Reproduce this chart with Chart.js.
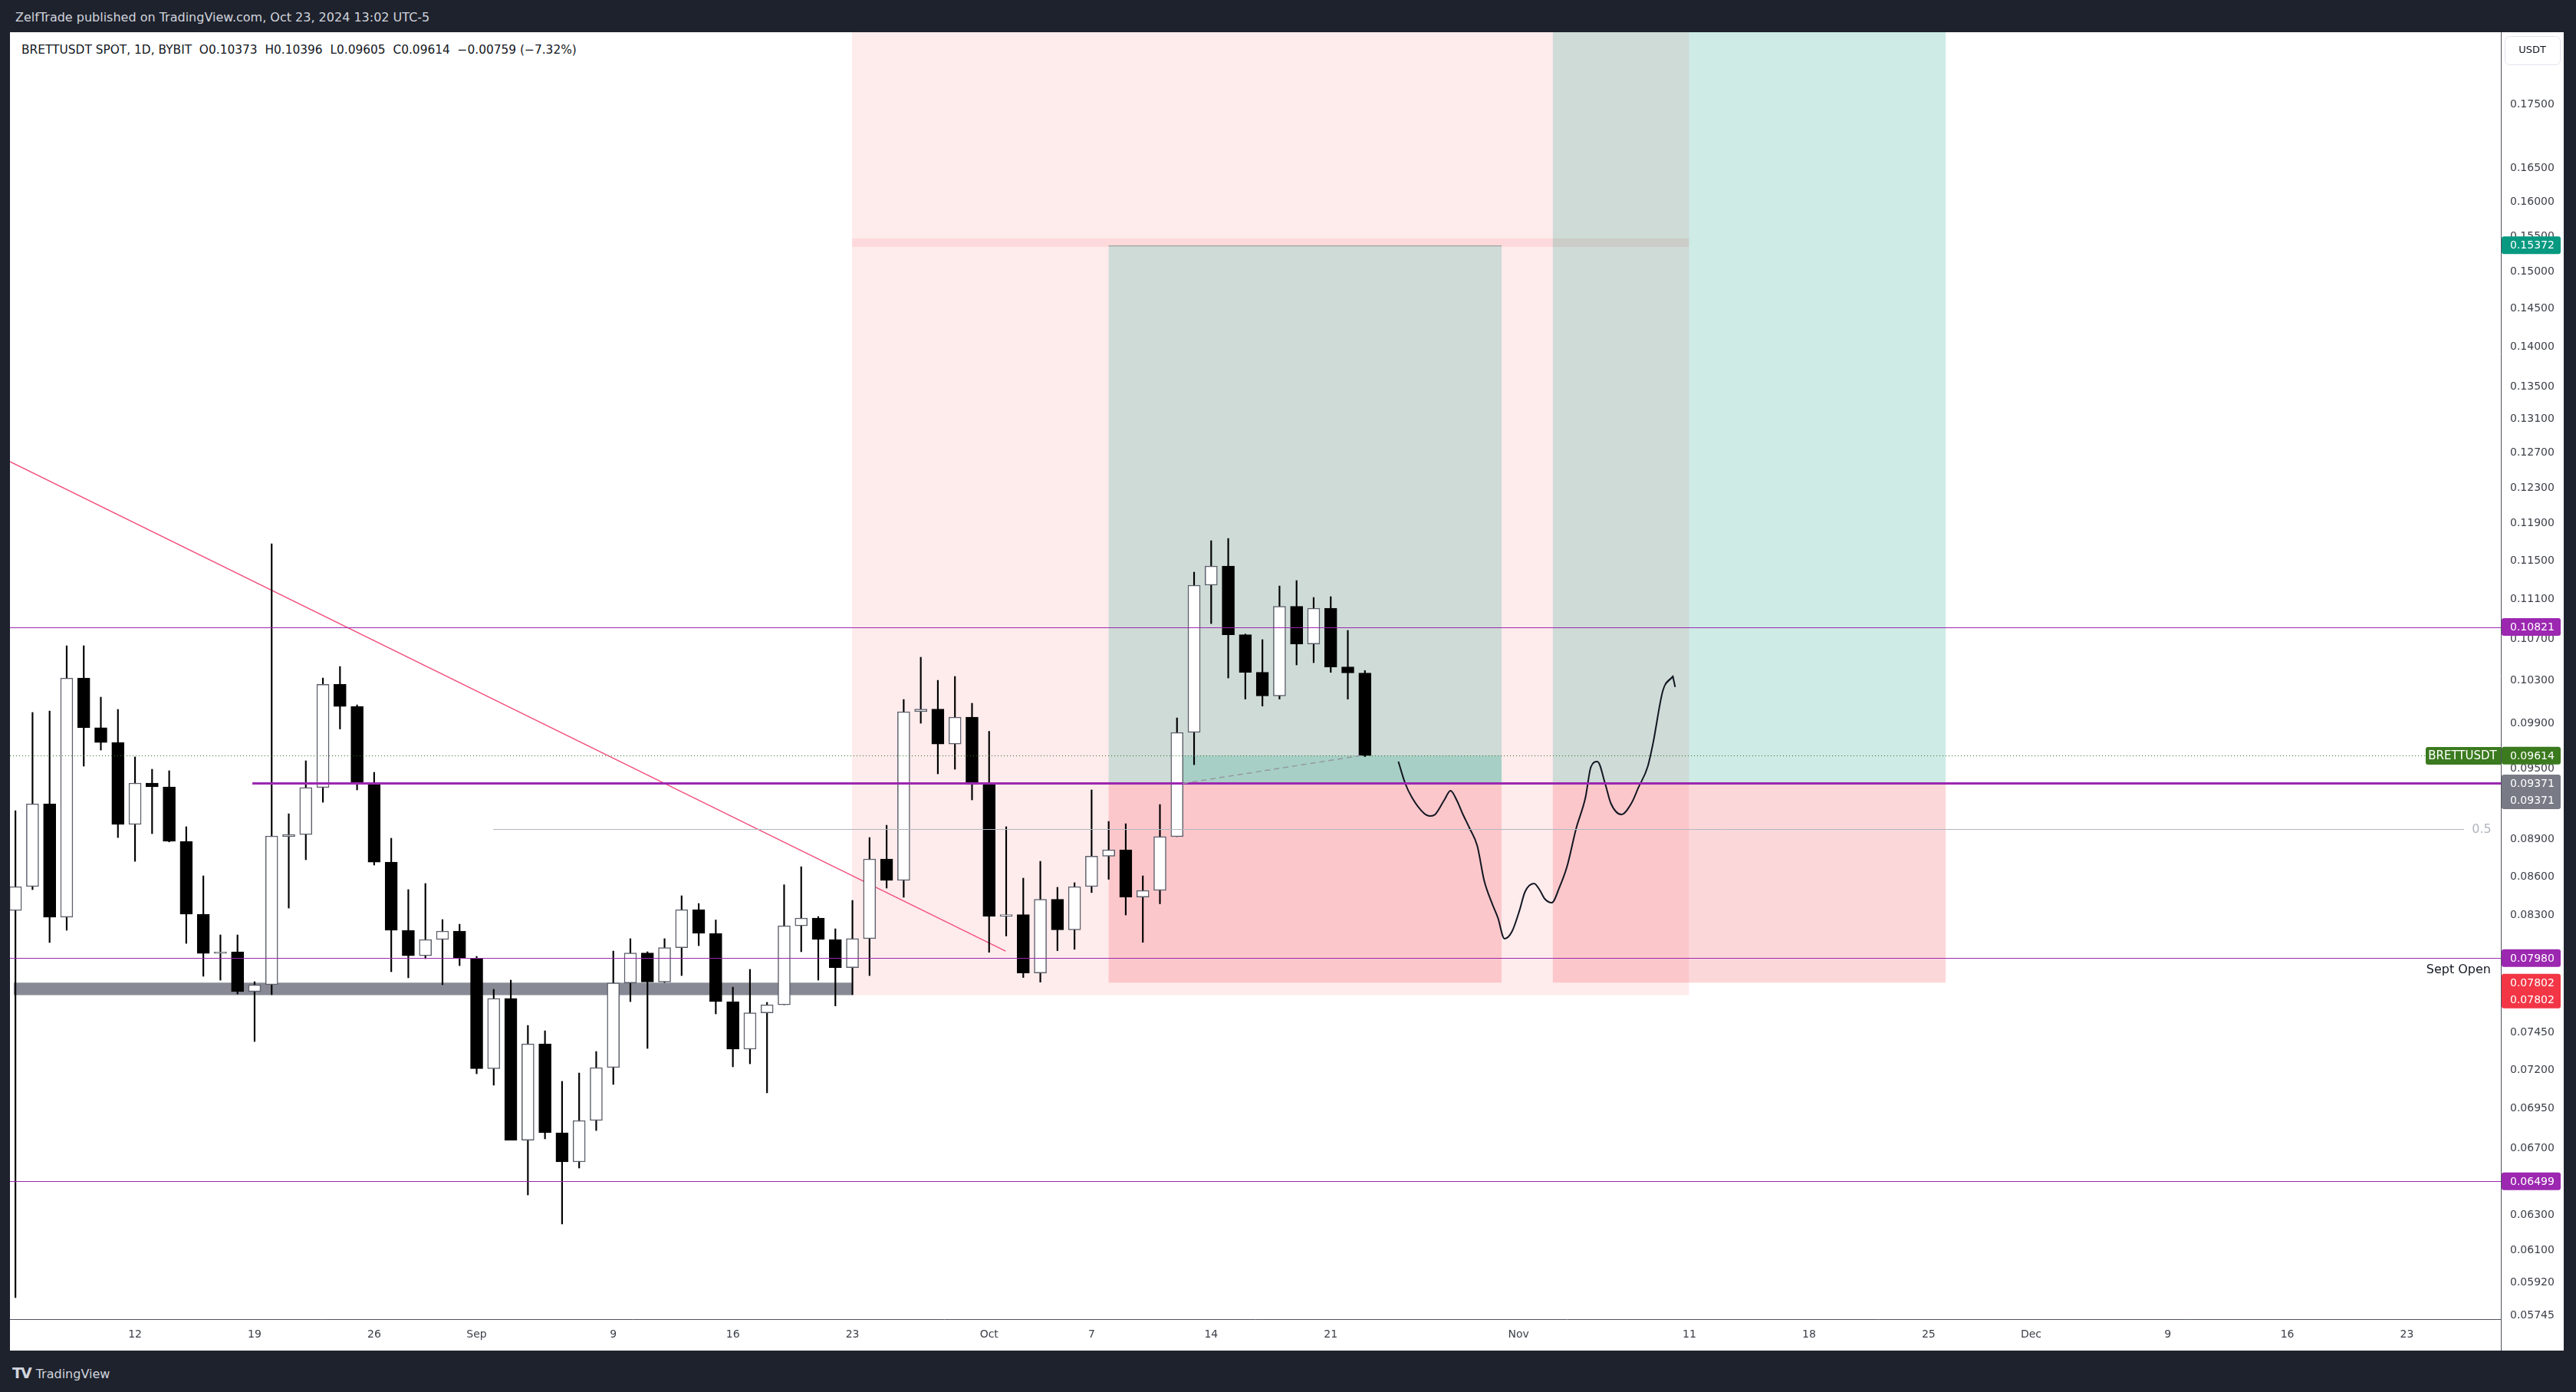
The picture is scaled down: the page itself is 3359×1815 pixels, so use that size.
<!DOCTYPE html>
<html lang="en">
<head>
<meta charset="UTF-8">
<title>BRETTUSDT SPOT, 1D, BYBIT</title>
<script src="https://cdn.jsdelivr.net/npm/chart.js"></script>
<style>
    html, body {
        margin: 0;
        padding: 0;
        width: 3359px;
        height: 1815px;
        overflow: hidden;
        background: #1e222d;
        font-family: 'DejaVu Sans', sans-serif;
    }
    #pane {
        position: absolute;
        left: 13px;
        top: 42px;
        width: 3330px;
        height: 1719px;
        background: #ffffff;
    }
    #header {
        position: absolute;
        left: 20px;
        top: 13px;
        color: #d1d4dc;
        font-size: 16px;
    }
    #legend {
        position: absolute;
        left: 28px;
        top: 56px;
        color: #131722;
        font-size: 15.4px;
        white-space: pre;
    }
    #footer {
        position: absolute;
        left: 16px;
        top: 1779px;
        color: #d1d4dc;
        font-size: 16px;
    }
    #footer b { font-size: 19px; letter-spacing: -2px; margin-right: 7px; }
    canvas { position: absolute; left: 0; top: 0; }
</style>
</head>
<body>
<div id="pane"></div>
<div id="header">ZelfTrade published on TradingView.com, Oct 23, 2024 13:02 UTC-5</div>
<div id="legend">BRETTUSDT SPOT, 1D, BYBIT  O0.10373  H0.10396  L0.09605  C0.09614  −0.00759 (−7.32%)</div>
<div id="footer"><b>TV</b>TradingView</div>
<canvas id="chart" width="3359" height="1815"></canvas>
<script>
// daily candles, 5 Aug -> 23 Oct 2024 (x unit = days since 12 Aug 2024)
const firstDay = -7;
const opens = [
    0.08338, 0.08523, 0.09197, 0.08286, 0.10325, 0.09863, 0.09731, 0.09024, 0.09374, 0.09341,
    0.08885, 0.08309, 0.08015, 0.08027, 0.07738, 0.07787, 0.08923, 0.08941, 0.09335, 0.10264,
    0.10059, 0.09368, 0.08717, 0.08187, 0.07998, 0.08118, 0.08181, 0.07979, 0.07208, 0.07689,
    0.06750, 0.07375, 0.06796, 0.06616, 0.06873, 0.07216, 0.07800, 0.08018, 0.07806, 0.08057,
    0.08344, 0.08164, 0.07667, 0.07339, 0.07588, 0.07645, 0.08221, 0.08280, 0.08118, 0.07911,
    0.08124, 0.08742, 0.08571, 0.10010, 0.10034, 0.09717, 0.09960, 0.09361, 0.08294, 0.08306,
    0.07872, 0.08424, 0.08190, 0.08523, 0.08764, 0.08816, 0.08441, 0.08493, 0.08923, 0.09821,
    0.11245, 0.11445, 0.10744, 0.10379, 0.10156, 0.11029, 0.10654, 0.11010, 0.10431, 0.10373
];
const highs = [
    0.09139, 0.10003, 0.10017, 0.10636, 0.10636, 0.10145, 0.10031, 0.09602, 0.09494, 0.09481,
    0.09005, 0.08607, 0.08152, 0.08152, 0.07809, 0.11682, 0.09113, 0.09568, 0.10325, 0.10435,
    0.10073, 0.09467, 0.08910, 0.08499, 0.08547, 0.08268, 0.08233, 0.07993, 0.07754, 0.07820,
    0.07501, 0.07464, 0.07125, 0.07180, 0.07323, 0.08032, 0.08124, 0.08027, 0.08124, 0.08451,
    0.08391, 0.08265, 0.07770, 0.07898, 0.07662, 0.08537, 0.08680, 0.08291, 0.08198, 0.08415,
    0.08916, 0.09017, 0.10123, 0.10524, 0.10303, 0.10340, 0.10088, 0.09831, 0.09005, 0.08589,
    0.08723, 0.08517, 0.08553, 0.09315, 0.09049, 0.09030, 0.08607, 0.09191, 0.09953, 0.11381,
    0.11715, 0.11739, 0.10751, 0.10696, 0.11237, 0.11293, 0.11119, 0.11127, 0.10787, 0.10396
];
const lows = [
    0.05840, 0.08499, 0.08095, 0.08187, 0.09521, 0.09663, 0.08916, 0.08723, 0.08948, 0.08880,
    0.08089, 0.07848, 0.07820, 0.07721, 0.07391, 0.07716, 0.08356, 0.08736, 0.09210, 0.09852,
    0.09315, 0.08693, 0.07881, 0.07837, 0.07976, 0.07787, 0.07925, 0.07175, 0.07100, 0.06750,
    0.06418, 0.06758, 0.06249, 0.06579, 0.06810, 0.07105, 0.07667, 0.07344, 0.07803, 0.07853,
    0.08072, 0.07581, 0.07221, 0.07241, 0.07050, 0.07645, 0.08027, 0.07820, 0.07637, 0.07716,
    0.07853, 0.08511, 0.08439, 0.09904, 0.09454, 0.09494, 0.09230, 0.08023, 0.08144, 0.07839,
    0.07806, 0.08035, 0.08045, 0.08476, 0.08580, 0.08303, 0.08097, 0.08389, 0.08923, 0.09534,
    0.10855, 0.10325, 0.10127, 0.10062, 0.10127, 0.10450, 0.10472, 0.10379, 0.10127, 0.09605
];
const closes = [
    0.08523, 0.09197, 0.08286, 0.10325, 0.09863, 0.09731, 0.09024, 0.09374, 0.09341, 0.08885,
    0.08309, 0.08015, 0.08027, 0.07738, 0.07787, 0.08929, 0.08941, 0.09335, 0.10264, 0.10059,
    0.09368, 0.08717, 0.08187, 0.07998, 0.08118, 0.08181, 0.07979, 0.07208, 0.07689, 0.06750,
    0.07375, 0.06796, 0.06616, 0.06873, 0.07216, 0.07800, 0.08018, 0.07806, 0.08057, 0.08344,
    0.08164, 0.07667, 0.07339, 0.07588, 0.07645, 0.08221, 0.08280, 0.08118, 0.07911, 0.08124,
    0.08742, 0.08571, 0.10010, 0.10034, 0.09717, 0.09960, 0.09361, 0.08294, 0.08306, 0.07872,
    0.08424, 0.08190, 0.08523, 0.08764, 0.08816, 0.08441, 0.08493, 0.08923, 0.09821, 0.11245,
    0.11445, 0.10744, 0.10379, 0.10156, 0.11029, 0.10654, 0.11010, 0.10431, 0.10373, 0.09614
];

// axes
const viewDays = [-7.32, 138.5];
const viewPrices = [0.057254, 0.187];
const dayTicks  = [0, 7, 14, 20, 28, 35, 42, 50, 56, 63, 70, 81, 91, 98, 105, 111, 119, 126, 133];
const dayLabels = ['12', '19', '26', 'Sep', '9', '16', '23', 'Oct', '7', '14', '21', 'Nov', '11', '18', '25', 'Dec', '9', '16', '23'];
const priceTicks = [0.175, 0.165, 0.16, 0.155, 0.15, 0.145, 0.14, 0.135, 0.131, 0.127, 0.123, 0.119,
    0.115, 0.111, 0.107, 0.103, 0.099, 0.095, 0.089, 0.086, 0.083, 0.0745, 0.072, 0.0695, 0.067,
    0.063, 0.061, 0.0592, 0.05745];

// drawings
const thinLevels = [0.10821, 0.07980, 0.06499];
const entryLevel = 0.09371;
const entryLevelFrom = 6.87;
const fibHalf = 0.08986;
const fibHalfFrom = 20.97;
const lastClose = 0.09614;
const supportBand = [0.07713, 0.07802];
const supportDays = [-7.1, 41.98];
const zoneDays = [41.98, 90.97];
const zoneUpperEdge = 0.15348;
const zoneLower = [0.15468, 0.07713];
const longDays = [[57, 80], [83, 106]];
const longTargets = [0.15372, 0.25];
const longStop = 0.07802;
const openPnlFrom = 61.35;
const exitLinkDays = [61.35, 71.75];
const trendDays = [-7.32, 50.97];
const trendPrices = [0.12598, 0.08032];
const pathDays = [73.96, 74.36, 74.76, 75.44, 75.82, 76.11, 76.65, 77.01, 77.37, 77.70, 78.13, 78.58,
    78.98, 79.43, 79.79, 80.17, 80.60, 81.05, 81.37, 81.90, 82.22, 82.53, 82.94, 83.39, 83.83, 84.37,
    84.91, 85.23, 85.61, 86.08, 86.39, 87.02, 87.61, 88.01, 88.55, 88.86, 89.45, 90.03];
const pathPrices = [0.09561, 0.09371, 0.09249, 0.09120, 0.09094, 0.09107, 0.09230, 0.09308, 0.09230,
    0.09120, 0.08992, 0.08847, 0.08571, 0.08397, 0.08280, 0.08124, 0.08175, 0.08338, 0.08481, 0.08547,
    0.08499, 0.08427, 0.08397, 0.08517, 0.08680, 0.08992, 0.09249, 0.09514, 0.09561, 0.09361, 0.09204,
    0.09107, 0.09204, 0.09335, 0.09514, 0.09717, 0.10209, 0.10340];

// price scale labels
const badgePrices = [0.15372, 0.10821, 0.09614, 0.09371, 0.07980, 0.07802, 0.06499];
const badgeRows   = [1, 1, 1, 2, 1, 2, 1];
const badgeColors = ['#089981', '#9c27b0', '#3b7a1f', '#787b86', '#9c27b0', '#f23645', '#9c27b0'];

const FONT = 'DejaVu Sans';
const PURPLE = '#9c27b0';

const wicks = opens.map((o, i) => ({ x: firstDay + i, y: [lows[i], highs[i]] }));
const bodies = opens.map((o, i) => ({ x: firstDay + i, y: [o, closes[i]] }));
const isUp = opens.map((o, i) => closes[i] >= o);

function roundRect(ctx, x, y, w, h, r) {
    ctx.beginPath();
    ctx.moveTo(x + r, y);
    ctx.arcTo(x + w, y, x + w, y + h, r);
    ctx.arcTo(x + w, y + h, x, y + h, r);
    ctx.arcTo(x, y + h, x, y, r);
    ctx.arcTo(x, y, x + w, y, r);
    ctx.closePath();
}

const drawings = {
    id: 'drawings',
    beforeDatasetsDraw(chart) {
        const { ctx, chartArea: a, scales: { x, y } } = chart;
        const box = (d0, d1, p0, p1, color) => {
            const x0 = x.getPixelForValue(d0), x1 = x.getPixelForValue(d1);
            const y0 = y.getPixelForValue(p0), y1 = y.getPixelForValue(p1);
            ctx.fillStyle = color;
            ctx.fillRect(x0, Math.min(y0, y1), x1 - x0, Math.abs(y1 - y0));
        };
        ctx.save();
        ctx.beginPath();
        ctx.rect(a.left, a.top, a.right - a.left, a.bottom - a.top);
        ctx.clip();

        // pink zone
        box(zoneDays[0], zoneDays[1], viewPrices[1] * 1.2, zoneUpperEdge, 'rgba(242,54,69,0.1)');
        box(zoneDays[0], zoneDays[1], zoneLower[0], zoneLower[1], 'rgba(242,54,69,0.1)');

        // long positions
        longDays.forEach((d, i) => {
            box(d[0], d[1], longTargets[i], entryLevel, 'rgba(8,153,129,0.2)');
            box(d[0], d[1], entryLevel, longStop, 'rgba(242,54,69,0.2)');
        });
        box(openPnlFrom, longDays[0][1], entryLevel, lastClose, 'rgba(8,153,129,0.2)');
        ctx.strokeStyle = 'rgba(120,140,135,0.6)';
        ctx.lineWidth = 1;
        const ty = Math.round(y.getPixelForValue(longTargets[0])) + 0.5;
        ctx.beginPath();
        ctx.moveTo(x.getPixelForValue(longDays[0][0]), ty);
        ctx.lineTo(x.getPixelForValue(longDays[0][1]), ty);
        ctx.stroke();

        // grey support band
        box(supportDays[0], supportDays[1], supportBand[1], supportBand[0], '#878a94');
        ctx.restore();
    },
    afterDatasetsDraw(chart) {
        const { ctx, chartArea: a, scales: { x, y } } = chart;
        const hline = (p, x0, x1, color, w, dash) => {
            const py = Math.round(y.getPixelForValue(p)) + (w % 2 ? 0.5 : 0);
            ctx.strokeStyle = color;
            ctx.lineWidth = w;
            ctx.setLineDash(dash || []);
            ctx.beginPath();
            ctx.moveTo(x0, py);
            ctx.lineTo(x1, py);
            ctx.stroke();
            return py;
        };
        ctx.save();
        ctx.beginPath();
        ctx.rect(a.left, a.top, a.right - a.left, a.bottom - a.top);
        ctx.clip();

        thinLevels.forEach(p => hline(p, a.left, a.right, PURPLE, 1));
        hline(entryLevel, x.getPixelForValue(entryLevelFrom), a.right, PURPLE, 3);
        const fy = hline(fibHalf, x.getPixelForValue(fibHalfFrom), a.right - 48, '#b2b5be', 1);
        const cy = hline(lastClose, a.left, a.right, '#2f6e1c', 1, [1, 3]);

        // link from entry to last close
        ctx.setLineDash([7, 5]);
        ctx.strokeStyle = '#9598a1';
        ctx.lineWidth = 1.5;
        ctx.beginPath();
        ctx.moveTo(x.getPixelForValue(exitLinkDays[0]), y.getPixelForValue(entryLevel));
        ctx.lineTo(x.getPixelForValue(exitLinkDays[1]), y.getPixelForValue(lastClose));
        ctx.stroke();
        ctx.setLineDash([]);

        ctx.font = '16px ' + FONT;
        ctx.textBaseline = 'middle';
        ctx.textAlign = 'center';
        ctx.fillStyle = '#b2b5be';
        ctx.fillText('0.5', a.right - 25, fy);
        ctx.textAlign = 'right';
        ctx.fillStyle = '#131722';
        ctx.fillText('Sept Open', a.right - 13, y.getPixelForValue(thinLevels[1]) + 16);

        // symbol tag next to the price scale
        ctx.fillStyle = '#3b7a1f';
        roundRect(ctx, a.right - 98, cy - 11.5, 100, 23, 3);
        ctx.fill();
        ctx.fillStyle = '#ffffff';
        ctx.font = '15px ' + FONT;
        ctx.textAlign = 'center';
        ctx.fillText('BRETTUSDT', a.right - 50, cy + 1);

        // arrow head on the drawn path
        const meta = chart.getDatasetMeta(3);
        const pts = meta.data;
        const p1 = pts[pts.length - 1], p0 = pts[pts.length - 3];
        const ang = Math.atan2(p1.y - p0.y, p1.x - p0.x);
        ctx.strokeStyle = '#131722';
        ctx.lineWidth = 2;
        ctx.beginPath();
        ctx.moveTo(p1.x - 14 * Math.cos(ang - 0.5), p1.y - 14 * Math.sin(ang - 0.5));
        ctx.lineTo(p1.x, p1.y);
        ctx.lineTo(p1.x - 14 * Math.cos(ang + 0.5), p1.y - 14 * Math.sin(ang + 0.5));
        ctx.stroke();
        ctx.restore();
    },
    afterDraw(chart) {
        const { ctx, chartArea: a, scales: { y } } = chart;
        ctx.save();
        // frame of the time scale
        ctx.strokeStyle = '#50535e';
        ctx.lineWidth = 1;
        ctx.beginPath();
        ctx.moveTo(a.right + 0.5, a.bottom);
        ctx.lineTo(a.right + 0.5, a.bottom + 41);
        ctx.stroke();

        // price badges
        ctx.font = '14px ' + FONT;
        ctx.textBaseline = 'middle';
        ctx.textAlign = 'left';
        badgePrices.forEach((p, i) => {
            const py = y.getPixelForValue(p);
            const rows = badgeRows[i];
            ctx.fillStyle = badgeColors[i];
            roundRect(ctx, a.right + 1, py - 11.5, 77, 23 * rows - (rows - 1) * 1, 3);
            ctx.fill();
            ctx.fillStyle = '#ffffff';
            for (let r = 0; r < rows; r++) {
                ctx.fillText(p.toFixed(5), a.right + 12, py + r * 22 + 1);
            }
        });

        // currency box
        ctx.fillStyle = '#ffffff';
        ctx.strokeStyle = '#e0e3eb';
        roundRect(ctx, a.right + 5.5, a.top + 5.5, 72, 37, 6);
        ctx.fill();
        ctx.stroke();
        ctx.fillStyle = '#131722';
        ctx.font = '13px ' + FONT;
        ctx.textAlign = 'center';
        ctx.fillText('USDT', a.right + 41, a.top + 24);
        ctx.restore();
    }
};

const tickFont = { family: FONT, size: 14 };

new Chart(document.getElementById('chart'), {
    type: 'bar',
    data: {
        datasets: [
            {
                label: 'wicks',
                data: wicks,
                backgroundColor: '#000000',
                barThickness: 1.5,
                grouped: false,
                order: 2
            },
            {
                label: 'bodies',
                data: bodies,
                backgroundColor: isUp.map(u => u ? '#ffffff' : '#000000'),
                borderColor: isUp.map(u => u ? '#5d606b' : '#000000'),
                borderWidth: 1.5,
                borderSkipped: false,
                barThickness: 16,
                grouped: false,
                order: 1
            },
            {
                type: 'line',
                label: 'trend',
                data: trendDays.map((d, i) => ({ x: d, y: trendPrices[i] })),
                borderColor: '#f2507e',
                borderWidth: 1.5,
                pointRadius: 0,
                fill: false,
                order: 3
            },
            {
                type: 'line',
                label: 'path',
                data: pathDays.map((d, i) => ({ x: d, y: pathPrices[i] })),
                borderColor: '#131722',
                borderWidth: 2,
                pointRadius: 0,
                fill: false,
                cubicInterpolationMode: 'monotone',
                order: 0
            }
        ]
    },
    options: {
        responsive: false,
        devicePixelRatio: 1,
        animation: false,
        events: [],
        layout: { padding: { left: 13, top: 42, right: 16, bottom: 54 } },
        plugins: { legend: { display: false }, tooltip: { enabled: false } },
        scales: {
            x: {
                type: 'linear',
                min: viewDays[0],
                max: viewDays[1],
                offset: false,
                grid: { display: false, drawTicks: false },
                border: { display: true, color: '#50535e', width: 1 },
                afterBuildTicks: s => { s.ticks = dayTicks.map(v => ({ value: v })); },
                afterFit: s => { s.height = 41; },
                ticks: {
                    autoSkip: false,
                    maxRotation: 0,
                    padding: 12,
                    color: '#3d4049',
                    font: tickFont,
                    callback: (v, i) => dayLabels[i]
                }
            },
            y: {
                type: 'logarithmic',
                position: 'right',
                min: viewPrices[0],
                max: viewPrices[1],
                grid: { display: false, drawTicks: false },
                border: { display: true, color: '#50535e', width: 1 },
                afterBuildTicks: s => { s.ticks = priceTicks.map(v => ({ value: v })); },
                afterFit: s => { s.width = 82; },
                ticks: {
                    autoSkip: false,
                    padding: 12,
                    color: '#3d4049',
                    font: tickFont,
                    callback: v => Number(v).toFixed(5)
                }
            }
        }
    },
    plugins: [drawings]
});
</script>
</body>
</html>
